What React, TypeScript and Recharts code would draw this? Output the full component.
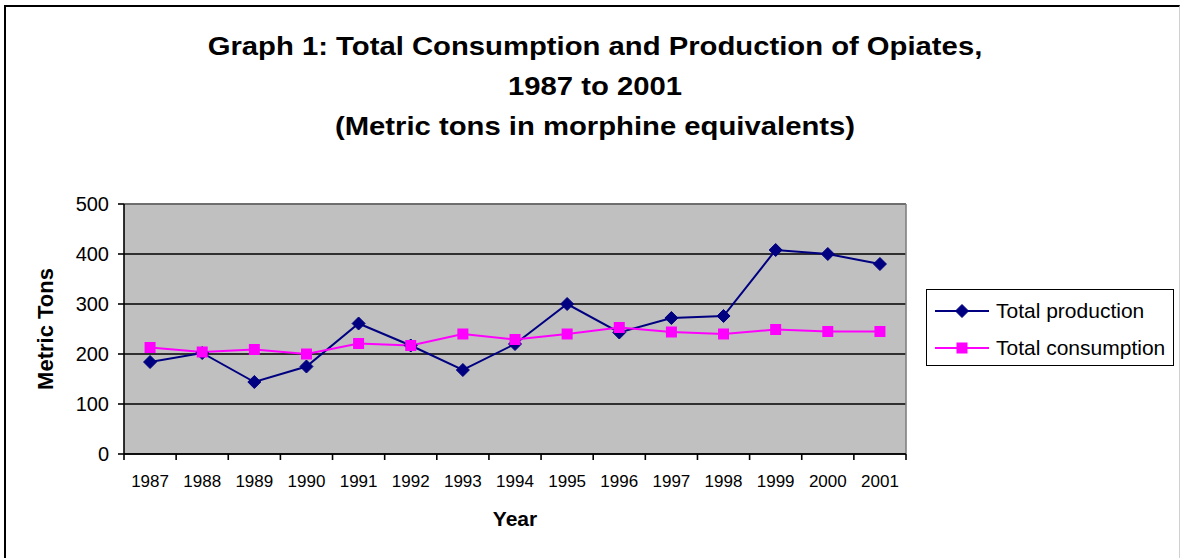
import React from 'react'
import { LineChart, Line, XAxis, YAxis, CartesianGrid, ReferenceLine } from 'recharts'

// Opiates, metric tons in morphine equivalents
const years = [1987, 1988, 1989, 1990, 1991, 1992, 1993, 1994, 1995, 1996, 1997, 1998, 1999, 2000, 2001]
const production = [184, 202, 144, 175, 261, 217, 168, 220, 300, 243, 272, 276, 408, 400, 380]
const consumption = [213, 204, 209, 200, 221, 217, 240, 229, 240, 253, 244, 240, 249, 245, 245]
const yTicks = [0, 100, 200, 300, 400, 500]
const titleLines = [
  'Graph 1: Total Consumption and Production of Opiates,',
  '1987 to 2001',
  '(Metric tons in morphine equivalents)',
]

const data = years.map((year, i) => ({
  year,
  production: production[i],
  consumption: consumption[i],
}))

// tick marks sit between the years, Excel style
const boundaryTicks = [...years.map((y) => y - 0.5), years[years.length - 1] + 0.5]

const FONT = '"Liberation Sans", Arial, Helvetica, sans-serif'
const W = 1181
const H = 558
const PLOT_LEFT = 124
const PLOT_RIGHT = 906
const PLOT_TOP = 204
const PLOT_BOTTOM = 454
const BAND = (PLOT_RIGHT - PLOT_LEFT) / years.length

const PROD_COLOR = '#000080'
const CONS_COLOR = '#FF00FF'

function YearTick(props: any) {
  const { x, y, payload } = props
  const year = payload.value + 0.5
  if (year > years[years.length - 1]) return null
  return (
    <text x={x + BAND / 2} y={y} dy={25} textAnchor="middle" fontSize={17} fontFamily={FONT} fill="#000">
      {year}
    </text>
  )
}

function Diamond({ cx, cy, fill, size = 6.5 }: any) {
  if (cx == null || cy == null) return null
  return (
    <path
      d={`M${cx},${cy - size} L${cx + size},${cy} L${cx},${cy + size} L${cx - size},${cy} Z`}
      fill={fill}
      stroke={fill}
    />
  )
}

function Square({ cx, cy, fill, size = 5.5 }: any) {
  if (cx == null || cy == null) return null
  return <rect x={cx - size} y={cy - size} width={size * 2} height={size * 2} fill={fill} />
}

function LegendBox() {
  const rows = [
    { name: 'Total production', color: PROD_COLOR, marker: 'diamond' },
    { name: 'Total consumption', color: CONS_COLOR, marker: 'square' },
  ]
  return (
    <div
      style={{
        position: 'absolute',
        left: 926,
        top: 289,
        border: '1.5px solid #000',
        background: '#fff',
        width: 248,
        height: 77,
        boxSizing: 'border-box',
        paddingTop: 2,
      }}
    >
      {rows.map((r) => (
        <div key={r.name} style={{ display: 'flex', alignItems: 'center', height: 37, paddingLeft: 7 }}>
          <svg width={56} height={16} style={{ marginRight: 6 }}>
            <line x1={1} y1={8} x2={55} y2={8} stroke={r.color} strokeWidth={2} />
            {r.marker === 'diamond' ? (
              <Diamond cx={28} cy={8} fill={r.color} />
            ) : (
              <Square cx={28} cy={8} fill={r.color} />
            )}
          </svg>
          <span style={{ fontFamily: FONT, fontSize: 21, color: '#000', whiteSpace: 'nowrap' }}>{r.name}</span>
        </div>
      ))}
    </div>
  )
}

export default function App() {
  return (
    <div style={{ position: 'absolute', left: 0, top: 0, width: W, height: H, background: '#fff', overflow: 'hidden' }}>
      {/* chart frame */}
      <div
        style={{
          position: 'absolute',
          left: 4,
          top: 5,
          width: 1176,
          height: 600,
          borderLeft: '2px solid #000',
          borderTop: '2px solid #000',
          borderRight: '1px solid #d0d0d0',
          boxSizing: 'border-box',
        }}
      />

      {/* title */}
      <div
        style={{
          position: 'absolute',
          left: 0,
          top: 26,
          width: 1190,
          textAlign: 'center',
          fontFamily: FONT,
          fontWeight: 'bold',
          fontSize: 25,
          lineHeight: '40px',
          color: '#000',
          transform: 'scaleX(1.17)',
        }}
      >
        {titleLines.map((t) => (
          <div key={t}>{t}</div>
        ))}
      </div>

      <div style={{ position: 'absolute', left: 0, top: 0 }}>
        <LineChart
          width={W}
          height={H}
          data={data}
          margin={{ top: PLOT_TOP, left: PLOT_LEFT - 80, right: W - PLOT_RIGHT, bottom: H - PLOT_BOTTOM - 80 }}
        >
          <CartesianGrid vertical={false} fill="#C0C0C0" stroke="#000" strokeWidth={1.6} fillOpacity={1} />
          <XAxis
            dataKey="year"
            type="number"
            domain={[boundaryTicks[0], boundaryTicks[boundaryTicks.length - 1]]}
            ticks={boundaryTicks}
            interval={0}
            height={80}
            tick={(p: any) => <YearTick {...p} />}
            tickSize={6}
            tickMargin={2}
            axisLine={{ stroke: '#000', strokeWidth: 1.6 }}
            tickLine={{ stroke: '#000', strokeWidth: 1.6 }}
            label={{
              value: 'Year',
              position: 'insideBottom',
              offset: 8,
              fontSize: 21,
              fontWeight: 'bold',
              fontFamily: FONT,
              fill: '#000',
            }}
          />
          <YAxis
            type="number"
            domain={[0, 500]}
            ticks={yTicks}
            interval={0}
            width={80}
            tickSize={6}
            tickMargin={9}
            tick={{ fontSize: 20, fontFamily: FONT, fill: '#000' }}
            axisLine={{ stroke: '#000', strokeWidth: 1.6 }}
            tickLine={{ stroke: '#000', strokeWidth: 1.6 }}
            label={{
              content: ({ viewBox }: any) => {
                const bx = viewBox.x + 9
                const cy = viewBox.y + viewBox.height / 2
                return (
                  <text
                    x={bx}
                    y={cy}
                    transform={`rotate(-90, ${bx}, ${cy})`}
                    textAnchor="middle"
                    fontSize={22}
                    fontWeight="bold"
                    fontFamily={FONT}
                    fill="#000"
                  >
                    Metric Tons
                  </text>
                )
              },
            }}
          />
          <ReferenceLine y={500} stroke="#808080" strokeWidth={1.6} />
          <ReferenceLine x={boundaryTicks[boundaryTicks.length - 1]} stroke="#808080" strokeWidth={1.6} />
          <Line
            dataKey="production"
            name="Total production"
            stroke={PROD_COLOR}
            strokeWidth={2}
            isAnimationActive={false}
            dot={(p: any) => <Diamond key={`d-${p.index}`} cx={p.cx} cy={p.cy} fill={PROD_COLOR} />}
            activeDot={false}
          />
          <Line
            dataKey="consumption"
            name="Total consumption"
            stroke={CONS_COLOR}
            strokeWidth={2}
            isAnimationActive={false}
            dot={(p: any) => <Square key={`s-${p.index}`} cx={p.cx} cy={p.cy} fill={CONS_COLOR} />}
            activeDot={false}
          />
        </LineChart>
      </div>

      <LegendBox />
    </div>
  )
}
